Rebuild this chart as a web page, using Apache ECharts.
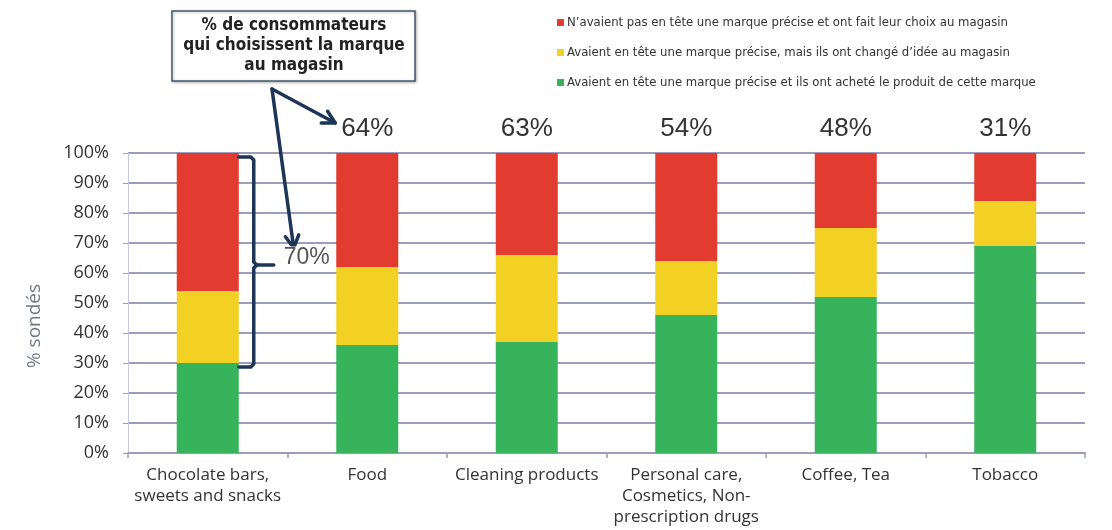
<!DOCTYPE html>
<html>
<head>
<meta charset="utf-8">
<script src="https://cdn.jsdelivr.net/npm/echarts@6/dist/echarts.min.js"></script>
<style>
  html, body { margin: 0; padding: 0; background: #fff; }
  #chart { width: 1112px; height: 530px; }
</style>
</head>
<body>
<div id="chart"></div>
<script>
// Product categories (x axis)
const categories = [
  'Chocolate bars,\nsweets and snacks',
  'Food',
  'Cleaning products',
  'Personal care,\nCosmetics, Non-\nprescription drugs',
  'Coffee, Tea',
  'Tobacco'
];

// Series names (legend)
const nameRed = 'N\u2019avaient pas en tête une marque précise et ont fait leur choix au magasin';
const nameYellow = 'Avaient en tête une marque précise, mais ils ont changé d\u2019idée au magasin';
const nameGreen = 'Avaient en tête une marque précise et ils ont acheté le produit de cette marque';

// Shares of respondents, in percent
const greenValues = [30, 36, 37, 46, 52, 69];
const yellowValues = [24, 26, 29, 18, 23, 15];
const redValues = [46, 38, 34, 36, 25, 16];

// Y axis ticks
const yMin = 0, yMax = 100, yStep = 10;

const RED = '#e23b30', YELLOW = '#f2d024', GREEN = '#37b35c';
const NAVY = '#1d3557';
const FONT = '"Open Sans", sans-serif';
const LEGEND_FONT = '"DejaVu Sans Condensed", "DejaVu Sans", sans-serif';
const ARIAL = '"Liberation Sans", Arial, sans-serif';

const chart = echarts.init(document.getElementById('chart'));

// Share choosing the brand in-store = changed mind + no brand in mind
const inStore = categories.map((c, i) => yellowValues[i] + redValues[i]);

const option = {
  backgroundColor: '#fff',
  animation: false,
  textStyle: { fontFamily: FONT },
  grid: { left: 128, right: 27, top: 153, bottom: 77 },
  legend: {
    orient: 'vertical',
    left: 552,
    top: 11,
    itemGap: 17,
    itemWidth: 7,
    itemHeight: 7,
    icon: 'rect',
    textStyle: { fontFamily: LEGEND_FONT, fontSize: 13, color: '#333', padding: [0, 0, 0, -2] },
    data: [nameRed, nameYellow, nameGreen]
  },
  xAxis: {
    type: 'category',
    data: categories,
    axisLine: { lineStyle: { color: '#9c9cbc', width: 2 } },
    axisTick: { show: true, length: 5, lineStyle: { color: '#9c9cbc', width: 1.5 } },
    axisLabel: { color: '#333', fontSize: 17, lineHeight: 21, margin: 12, fontFamily: FONT, interval: 0 }
  },
  yAxis: {
    type: 'value',
    min: yMin,
    max: yMax,
    interval: yStep,
    axisLine: { show: true, lineStyle: { color: '#c8c8dc', width: 1 } },
    axisTick: { show: true, length: 5, lineStyle: { color: '#9c9cbc' } },
    axisLabel: { formatter: '{value}%', color: '#333', fontSize: 18, margin: 19, fontFamily: FONT },
    splitLine: { lineStyle: { color: '#9c9cbc', width: 2 } }
  },
  series: [
    {
      name: nameGreen, type: 'bar', stack: 'total', barWidth: 62,
      itemStyle: { color: GREEN }, data: greenValues
    },
    {
      name: nameYellow, type: 'bar', stack: 'total', barWidth: 62,
      itemStyle: { color: YELLOW }, data: yellowValues
    },
    {
      name: nameRed, type: 'bar', stack: 'total', barWidth: 62,
      itemStyle: { color: RED },
      data: redValues.map((v, i) => ({
        value: v,
        label: {
          show: i > 0,
          position: 'top',
          distance: 11,
          formatter: () => inStore[i] + '%',
          color: '#333',
          fontSize: 26,
          fontFamily: ARIAL
        }
      }))
    }
  ]
};

chart.setOption(option);

// Annotation: bracket on the first bar, callout box and arrows
const px = (i, v) => chart.convertToPixel({ gridIndex: 0 }, [i, v]);
const top0 = px(0, 100);
const bot0 = px(0, greenValues[0]);
const x0 = top0[0] + 31;            // right edge of the first bar
const bx = x0 + 15;                 // bracket spine
const yTop = top0[1] + 4, yBot = bot0[1] + 4;
const yMid = (yTop + yBot) / 2 + 3;
const c = 3;                        // corner cut
const bracketTop = [[x0, yTop], [bx - c, yTop], [bx, yTop + c], [bx, yMid - c], [bx + c, yMid], [bx + 20, yMid]];
const bracketBot = [[bx + c, yMid], [bx, yMid + c], [bx, yBot - c], [bx - c, yBot], [x0, yBot]];

const label1Pos = px(1, 100);
const origin = [272, 89];
const tip1 = [label1Pos[0] - 32, 123];
const tip2 = [bx + 40, yMid - 17];

function arrowHead(tip, from) {
  const ang = Math.atan2(tip[1] - from[1], tip[0] - from[0]);
  const L = 14, a = 0.5;
  return [
    [tip[0] - L * Math.cos(ang - a), tip[1] - L * Math.sin(ang - a)],
    tip,
    [tip[0] - L * Math.cos(ang + a), tip[1] - L * Math.sin(ang + a)]
  ];
}

const strokeStyle = { fill: null, stroke: NAVY, lineWidth: 3.5, lineCap: 'round', lineJoin: 'round' };

chart.setOption({
  graphic: [
    {
      type: 'text',
      x: 35, y: 326,
      rotation: Math.PI / 2,
      style: {
        text: '% sondés', fill: '#6e7782', font: '19px ' + FONT,
        align: 'center', verticalAlign: 'middle'
      }
    },
    {
      type: 'rect',
      shape: { x: 172, y: 11, width: 243, height: 70 },
      style: { fill: '#fff', stroke: '#44556a', lineWidth: 1.5,
               shadowBlur: 3, shadowColor: 'rgba(0,0,0,0.25)', shadowOffsetX: 1, shadowOffsetY: 1 },
      z: 10
    },
    {
      type: 'text',
      x: 294, y: 46,
      style: {
        text: '% de consommateurs\nqui choisissent la marque\nau magasin',
        fill: '#222', font: 'bold 17px ' + LEGEND_FONT,
        align: 'center', verticalAlign: 'middle', lineHeight: 20
      },
      z: 11
    },
    { type: 'polyline', shape: { points: [origin, tip1] }, style: strokeStyle, z: 10 },
    { type: 'polyline', shape: { points: arrowHead(tip1, origin) }, style: strokeStyle, z: 10 },
    { type: 'polyline', shape: { points: [origin, tip2] }, style: strokeStyle, z: 10 },
    { type: 'polyline', shape: { points: arrowHead(tip2, origin) }, style: strokeStyle, z: 10 },
    { type: 'polyline', shape: { points: bracketTop }, style: strokeStyle, z: 10 },
    { type: 'polyline', shape: { points: bracketBot }, style: strokeStyle, z: 10 },
    {
      type: 'text',
      x: bx + 29, y: yMid - 7,
      style: {
        text: inStore[0] + '%',
        fill: '#555', font: '23px ' + ARIAL,
        align: 'left', verticalAlign: 'middle',
        backgroundColor: '#fff', padding: [0, 1]
      },
      z: 11
    }
  ]
});
</script>
</body>
</html>
